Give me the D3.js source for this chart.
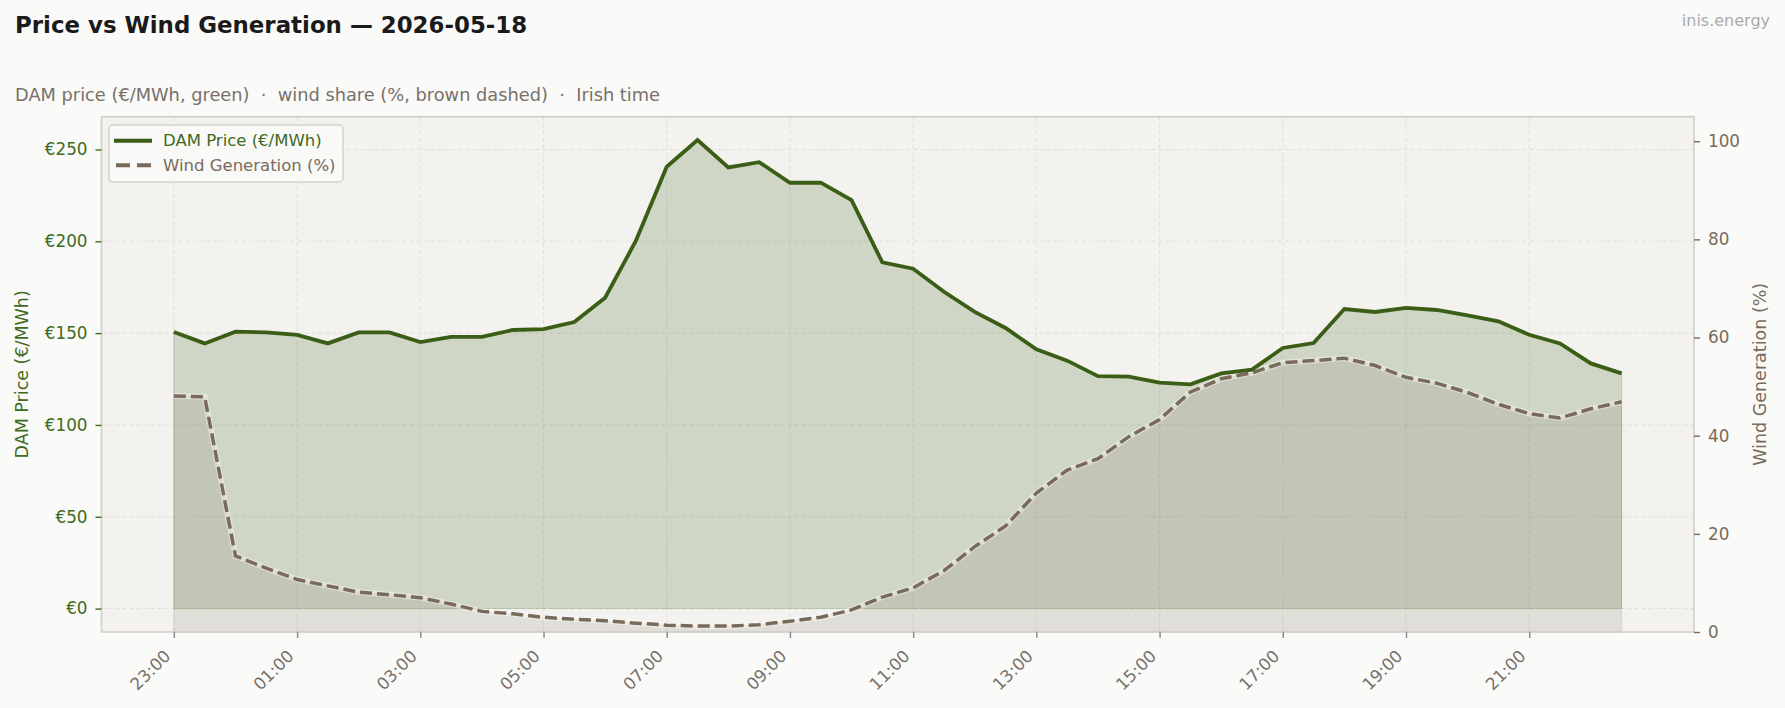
<!DOCTYPE html>
<html>
  <head>
    <title>Price vs Wind Generation</title>
    <style>
      body,
      html {
        margin: 0;
        padding: 0;
        background: #fafaf8;
      }
      svg text {
        font-family: 'DejaVu Sans', sans-serif;
      }
    </style>
  </head>
  <body>
    <svg id="svg" width="1785" height="708"></svg>

    <script src="https://cdn.jsdelivr.net/npm/d3@7"></script>
    <script>
      // half-hourly slots, Irish time
      const times = [
        '23:00', '23:30', '00:00', '00:30', '01:00', '01:30', '02:00', '02:30',
        '03:00', '03:30', '04:00', '04:30', '05:00', '05:30', '06:00', '06:30',
        '07:00', '07:30', '08:00', '08:30', '09:00', '09:30', '10:00', '10:30',
        '11:00', '11:30', '12:00', '12:30', '13:00', '13:30', '14:00', '14:30',
        '15:00', '15:30', '16:00', '16:30', '17:00', '17:30', '18:00', '18:30',
        '19:00', '19:30', '20:00', '20:30', '21:00', '21:30', '22:00', '22:30'
      ];
      // DAM price €/MWh
      const price = [
        150.6, 144.4, 150.8, 150.4, 149.0, 144.4, 150.4, 150.4,
        145.1, 148.0, 148.0, 151.7, 152.2, 156.0, 169.3, 200.3,
        240.6, 255.1, 240.2, 243.1, 231.9, 232.0, 222.4, 188.5,
        185.1, 172.5, 161.6, 152.8, 141.2, 135.0, 126.6, 126.3,
        123.0, 122.1, 128.1, 130.1, 141.9, 144.6, 163.1, 161.5,
        163.7, 162.6, 159.7, 156.4, 149.1, 144.4, 133.5, 128.1
      ];
      // wind share of generation %
      const wind = [
        48.1, 47.9, 15.5, 13.0, 10.7, 9.4, 8.1, 7.6,
        7.0, 5.7, 4.2, 3.7, 3.0, 2.6, 2.3, 1.8,
        1.4, 1.2, 1.2, 1.5, 2.2, 3.0, 4.5, 7.1,
        9.0, 12.5, 17.4, 21.6, 28.3, 33.0, 35.3, 39.8,
        43.3, 48.9, 51.6, 52.8, 54.9, 55.3, 55.8, 54.3,
        51.9, 50.7, 48.8, 46.4, 44.5, 43.6, 45.5, 46.9
      ];
      const xTickLabels = ['23:00', '01:00', '03:00', '05:00', '07:00', '09:00', '11:00', '13:00', '15:00', '17:00', '19:00', '21:00'];
      const priceTicks = [0, 50, 100, 150, 200, 250];
      const windTicks = [0, 20, 40, 60, 80, 100];

      const green = '#3b5e17';
      const greenText = '#3f6a1f';
      const brown = '#7a6a5a';
      const greyText = '#77716a';

      const plotLeft = 101.5;
      const plotRight = 1694;
      const plotTop = 116.7;
      const plotBottom = 632;

      const svg = d3.select('#svg');

      const n = times.length;
      const pad = (n - 1) * 0.05;
      const xScale = d3.scaleLinear().domain([-pad, n - 1 + pad]).range([plotLeft, plotRight]);
      const pMax = d3.max(price);
      const yPrice = d3.scaleLinear().domain([-pMax * 0.05, pMax * 1.05]).range([plotBottom, plotTop]);
      const yWind = d3.scaleLinear().domain([0, 105]).range([plotBottom, plotTop]);

      // axes background
      svg.append('rect')
        .attr('x', plotLeft).attr('y', plotTop)
        .attr('width', plotRight - plotLeft).attr('height', plotBottom - plotTop)
        .attr('fill', '#f3f2ef');

      const tickIdx = xTickLabels.map((t) => times.indexOf(t));

      // grid
      const grid = svg.append('g')
        .attr('stroke', '#dedbd4')
        .attr('stroke-width', 0.9)
        .attr('stroke-dasharray', '4,3');
      grid.selectAll('.vx').data(tickIdx).join('line')
        .attr('x1', (d) => xScale(d)).attr('x2', (d) => xScale(d))
        .attr('y1', plotTop).attr('y2', plotBottom);
      grid.selectAll('.hy').data(priceTicks).join('line')
        .attr('x1', plotLeft).attr('x2', plotRight)
        .attr('y1', (d) => yPrice(d)).attr('y2', (d) => yPrice(d));

      const idx = d3.range(n);

      const priceArea = d3.area()
        .x((i) => xScale(i))
        .y0(yPrice(0))
        .y1((i) => yPrice(price[i]));
      const windArea = d3.area()
        .x((i) => xScale(i))
        .y0(yWind(0))
        .y1((i) => yWind(wind[i]));

      svg.append('path')
        .attr('d', priceArea(idx))
        .attr('fill', green).attr('fill-opacity', 0.19)
        .attr('stroke', green).attr('stroke-opacity', 0.19).attr('stroke-width', 1);
      svg.append('path')
        .attr('d', windArea(idx))
        .attr('fill', brown).attr('fill-opacity', 0.15)
        .attr('stroke', brown).attr('stroke-opacity', 0.15).attr('stroke-width', 1);

      const windLine = d3.line().x((i) => xScale(i)).y((i) => yWind(wind[i]));
      const priceLine = d3.line().x((i) => xScale(i)).y((i) => yPrice(price[i]));

      svg.append('path')
        .attr('d', windLine(idx))
        .attr('fill', 'none')
        .attr('stroke', '#fff').attr('stroke-opacity', 0.4)
        .attr('stroke-width', 5.8);
      svg.append('path')
        .attr('d', windLine(idx))
        .attr('fill', 'none')
        .attr('stroke', brown)
        .attr('stroke-width', 3.5)
        .attr('stroke-dasharray', '12,5');
      svg.append('path')
        .attr('d', priceLine(idx))
        .attr('fill', 'none')
        .attr('stroke', green)
        .attr('stroke-width', 3.8)
        .attr('stroke-linejoin', 'miter');

      // frame
      svg.append('rect')
        .attr('x', plotLeft).attr('y', plotTop)
        .attr('width', plotRight - plotLeft).attr('height', plotBottom - plotTop)
        .attr('fill', 'none')
        .attr('stroke', '#d2cec6').attr('stroke-width', 1.6);

      // axes
      const styleAxis = (g, color, textColor) => {
        g.select('.domain').remove();
        g.selectAll('.tick line').attr('stroke', color).attr('stroke-width', 1.4);
        g.selectAll('.tick text')
          .attr('fill', textColor)
          .style('font-size', '16.8px')
          .style('font-family', "'DejaVu Sans', sans-serif");
      };

      const bottomAxis = d3.axisBottom(xScale)
        .tickValues(tickIdx)
        .tickFormat((i) => times[i])
        .tickSize(6)
        .tickPadding(4);
      const gx = svg.append('g')
        .attr('transform', `translate(0, ${plotBottom})`)
        .call(bottomAxis)
        .call((g) => styleAxis(g, '#888', greyText));
      gx.selectAll('.tick text')
        .attr('text-anchor', 'end')
        .attr('dy', '0.35em')
        .attr('transform', 'translate(-7, 21) rotate(-45)')
        .attr('y', 0).attr('x', 0);

      const leftAxis = d3.axisLeft(yPrice)
        .tickValues(priceTicks)
        .tickFormat((d) => `€${d}`)
        .tickSize(6)
        .tickPadding(8);
      svg.append('g')
        .attr('transform', `translate(${plotLeft}, 0)`)
        .call(leftAxis)
        .call((g) => styleAxis(g, greenText, greenText));

      const rightAxis = d3.axisRight(yWind)
        .tickValues(windTicks)
        .tickSize(6)
        .tickPadding(8);
      svg.append('g')
        .attr('transform', `translate(${plotRight}, 0)`)
        .call(rightAxis)
        .call((g) => styleAxis(g, brown, brown));

      // axis labels
      const midY = (plotTop + plotBottom) / 2;
      svg.append('text')
        .attr('transform', `translate(28, ${midY}) rotate(-90)`)
        .attr('text-anchor', 'middle')
        .attr('fill', greenText)
        .style('font-size', '17.5px')
        .text('DAM Price (€/MWh)');
      svg.append('text')
        .attr('transform', `translate(1766, ${midY}) rotate(-90)`)
        .attr('text-anchor', 'middle')
        .attr('fill', brown)
        .style('font-size', '17.5px')
        .text('Wind Generation (%)');

      // legend
      const legend = svg.append('g');
      legend.append('rect')
        .attr('x', 109).attr('y', 125)
        .attr('width', 234).attr('height', 57)
        .attr('rx', 4)
        .attr('fill', '#f9f9f7').attr('fill-opacity', 0.9)
        .attr('stroke', '#d6d2ca').attr('stroke-width', 1.5);
      legend.append('line')
        .attr('x1', 114).attr('x2', 152).attr('y1', 140.7).attr('y2', 140.7)
        .attr('stroke', green).attr('stroke-width', 4);
      legend.append('line')
        .attr('x1', 116).attr('x2', 152).attr('y1', 165.3).attr('y2', 165.3)
        .attr('stroke', brown).attr('stroke-width', 4)
        .attr('stroke-dasharray', '14,7');
      legend.append('text')
        .attr('x', 163).attr('y', 140.7).attr('dy', '0.35em')
        .attr('fill', greenText)
        .style('font-size', '16.5px')
        .text('DAM Price (€/MWh)');
      legend.append('text')
        .attr('x', 163).attr('y', 165.3).attr('dy', '0.35em')
        .attr('fill', brown)
        .style('font-size', '16.5px')
        .text('Wind Generation (%)');

      // titles
      svg.append('text')
        .attr('x', 15).attr('y', 33)
        .attr('fill', '#1a1a1a')
        .style('font-size', '22.9px')
        .style('font-weight', 'bold')
        .text('Price vs Wind Generation — 2026-05-18');
      svg.append('text')
        .attr('x', 15).attr('y', 101)
        .attr('fill', greyText)
        .style('font-size', '17.8px')
        .style('white-space', 'pre')
        .text('DAM price (€/MWh, green)  ·  wind share (%, brown dashed)  ·  Irish time');
      svg.append('text')
        .attr('x', 1770).attr('y', 26)
        .attr('text-anchor', 'end')
        .attr('fill', '#aaa')
        .style('font-size', '16px')
        .text('inis.energy');
    </script>
  </body>
</html>
